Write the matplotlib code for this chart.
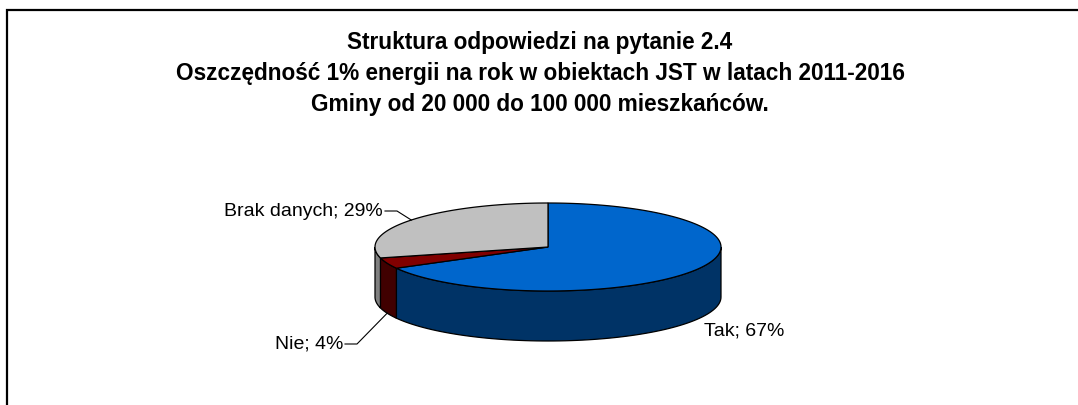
import numpy as np
import matplotlib.pyplot as plt
from matplotlib.patches import Polygon

plt.rcParams['font.family'] = ['Liberation Sans', 'DejaVu Sans']

# data
labels = ['Tak', 'Nie', 'Brak danych']
values = [67, 4, 29]
top_colors = ['#0066CC', '#800000', '#C0C0C0']
side_colors = ['#003366', '#400000', '#808080']
title_lines = ['Struktura odpowiedzi na pytanie 2.4',
               'Oszczędność 1% energii na rok w obiektach JST w latach 2011-2016',
               'Gminy od 20 000 do 100 000 mieszkańców.']

W, H = 1078, 405
fig = plt.figure(figsize=(W / 100, H / 100), dpi=100)
ax = fig.add_axes([0, 0, 1, 1])
ax.set_xlim(0, W)
ax.set_ylim(H, 0)
ax.axis('off')

# frame (only top and left visible)
ax.plot([7, 7, W], [H, 10, 10], color='black', lw=1.6, solid_joinstyle='miter')

# title
for i, line in enumerate(title_lines):
    ax.text(540, 43 + i * 30.5, line, ha='center', va='center',
            fontsize=16.3, fontweight='bold')

# 3D pie geometry
cx, cy, rx, ry, depth = 548, 247, 173, 44, 50


def pt(theta_deg, dy=0):
    t = np.radians(theta_deg)
    return cx + rx * np.cos(t), cy - ry * np.sin(t) + dy


fracs = np.array(values) / np.sum(values)
starts = 90 - 360 * np.concatenate([[0], np.cumsum(fracs)[:-1]])
ends = starts - 360 * fracs

# side faces (front half: angles 180..360)
for s, e, col in zip(starts, ends, side_colors):
    a1, a2 = e % 360, s % 360
    if a2 <= a1:
        a2 += 360
    lo, hi = max(a1, 180), min(a2, 360)
    if hi <= lo:
        continue
    th = np.linspace(lo, hi, 80)
    xs, ys = pt(th)
    xb, yb = pt(th[::-1], depth)
    poly = np.column_stack([np.concatenate([xs, xb]), np.concatenate([ys, yb])])
    ax.add_patch(Polygon(poly, closed=True, facecolor=col, edgecolor='black', lw=0.9))

# top faces
for s, e, col in zip(starts, ends, top_colors):
    th = np.linspace(s, e, 200)
    xs, ys = pt(th)
    poly = np.column_stack([np.concatenate([[cx], xs]), np.concatenate([[cy], ys])])
    ax.add_patch(Polygon(poly, closed=True, facecolor=col, edgecolor='black', lw=0.9))

# labels
mids = (starts + ends) / 2
fs = 14
# Tak
ax.text(704, 331, f'{labels[0]}; {values[0]}%', ha='left', va='center', fontsize=fs)
# Nie
nx, ny = pt(mids[1], depth)
ax.text(343, 344, f'{labels[1]}; {values[1]}%', ha='right', va='center', fontsize=fs)
ax.plot([345, 357, nx], [344, 344, ny], color='black', lw=0.8)
# Brak danych
bx, by = pt(mids[2])
ax.text(383, 211, f'{labels[2]}; {values[2]}%', ha='right', va='center', fontsize=fs)
ax.plot([385, 397, bx], [211, 211, by], color='black', lw=0.8)

fig.savefig('out.png', dpi=100)
